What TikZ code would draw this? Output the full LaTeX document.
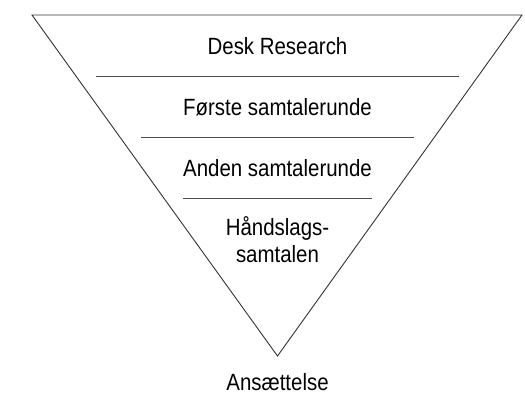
\documentclass[tikz,border=0pt]{standalone}
\usepackage{fontspec}
\setmainfont[FakeStretch=0.87]{Liberation Sans}
\begin{document}
\begin{tikzpicture}[x=1pt,y=-1pt,
  lbl/.style={inner sep=0pt, anchor=base, align=center, text=black,
    font=\fontsize{23.5}{27}\selectfont},
  edge/.style={draw=black!80, line width=0.9pt, line join=miter},
  sep/.style={draw=black!70, line width=0.9pt}]
\useasboundingbox (0,0) rectangle (525,406);
\coordinate (tl) at (32,15);
\coordinate (tr) at (522,15);
\coordinate (ap) at (277.5,356);
\draw[edge] (tl) -- (tr) -- (ap) -- cycle;
\coordinate (l1a) at (96,76);  \coordinate (l1b) at (459,76);
\coordinate (l2a) at (141,137); \coordinate (l2b) at (414,137);
\coordinate (l3a) at (183,198); \coordinate (l3b) at (372,198);
\draw[sep] (l1a) -- (l1b);
\draw[sep] (l2a) -- (l2b);
\draw[sep] (l3a) -- (l3b);
\node[lbl] (t1) at (277.5,55) {Desk Research};
\node[lbl] (t2) at (277.5,116) {Første samtalerunde};
\node[lbl] (t3) at (277.5,177) {Anden samtalerunde};
\node[lbl, anchor=north] (t4) at (277.5,216) {Håndslags-\\samtalen};
\node[lbl] (t5) at (277.5,390.5) {Ansættelse};
\end{tikzpicture}
\end{document}
